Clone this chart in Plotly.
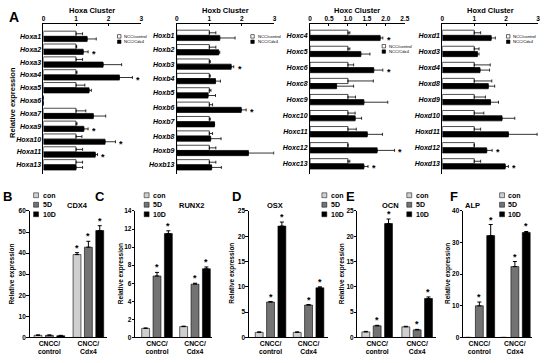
import plotly.graph_objects as go

W, H = 550, 363
def px(x): return x / W
def py(y): return 1 - y / H

FONT = "Arial, Liberation Sans, sans-serif"

# ---------------- Data: panel A (Hox clusters) ----------------
hoxa_genes = ["Hoxa1","Hoxa2","Hoxa3","Hoxa4","Hoxa5","Hoxa6","Hoxa7","Hoxa9","Hoxa10","Hoxa11","Hoxa13"]
hoxa_ctrl = [1,1,1,1,1,0,1,1,1,1,1]
hoxa_ctrl_err = [0.2,0.02,0.2,0.03,0.27,0,0.3,0.03,0.18,0.2,0.2]
hoxa_cdx4 = [1.34,1.22,1.83,2.33,1.40,0,1.53,1.24,1.89,1.59,1.0]
hoxa_cdx4_err = [0.28,0.15,0.57,0.40,0.07,0,0.38,0.13,0.32,0.07,0.2]
hoxa_sig = [0,1,0,1,0,0,0,1,1,1,0]

hoxb_genes = ["Hoxb1","Hoxb2","Hoxb3","Hoxb4","Hoxb5","Hoxb6","Hoxb7","Hoxb8","Hoxb9","Hoxb13"]
hoxb_ctrl = [1,1,1,1,1,1,1,1,1,1]
hoxb_ctrl_err = [0.2,0.2,0.03,0.03,0.05,0.1,0.03,0.1,0.2,0.2]
hoxb_cdx4 = [1.32,1.29,1.67,1.19,0.96,1.98,1.16,1.04,2.2,1.07]
hoxb_cdx4_err = [0.47,0.03,0.08,0.15,0.23,0.15,0.0,0.32,0.78,0.3]
hoxb_sig = [0,0,1,0,0,1,0,0,0,0]

hoxc_genes = ["Hoxc4","Hoxc5","Hoxc6","Hoxc8","Hoxc9","Hoxc10","Hoxc11","Hoxc12","Hoxc13"]
hoxc_ctrl = [1,1,1,1,1,1,1,1,1]
hoxc_ctrl_err = [0.05,0.05,0.15,0.67,0.2,0.19,0.22,0.0,0.05]
hoxc_cdx4 = [1.85,1.34,1.68,0.70,1.42,1.19,1.51,1.77,1.42]
hoxc_cdx4_err = [0.07,0.24,0.24,0.45,0.63,0.17,0.4,0.46,0.11]
hoxc_sig = [1,0,1,0,0,0,0,1,1]

hoxd_genes = ["Hoxd1","Hoxd3","Hoxd4","Hoxd8","Hoxd9","Hoxd10","Hoxd11","Hoxd12","Hoxd13"]
hoxd_ctrl = [1,1,1,1,1,1,1,1,1]
hoxd_ctrl_err = [0.2,0.15,0.5,0.55,0.35,0.3,0.2,0.0,0.2]
hoxd_cdx4 = [1.53,1.10,1.18,1.44,1.51,1.87,2.07,1.39,1.97]
hoxd_cdx4_err = [0.13,0.05,0.3,0.2,0.25,0.4,0.9,0.17,0.1]
hoxd_sig = [0,0,0,0,0,0,0,1,1]

cluster_titles = ["Hoxa Cluster","Hoxb Cluster","Hoxc Cluster","Hoxd Cluster"]
hox_series_names = ["NCC/control","NCC/Cdx4"]

# ---------------- Data: panels B-F (time course) ----------------
group_labels = ["CNCC/<br>control","CNCC/<br>Cdx4"]
time_names = ["con","5D","10D"]

cdx4_con = [1.0, 39.3];  cdx4_con_err = [0.2, 0.9]
cdx4_5d  = [1.0, 42.8];  cdx4_5d_err  = [0.2, 2.8]
cdx4_10d = [0.8, 50.7];  cdx4_10d_err = [0.2, 2.3]
cdx4_sig = [[0,1],[0,1],[0,1]]

runx2_con = [1.0, 1.2];  runx2_con_err = [0.05, 0.05]
runx2_5d  = [6.8, 5.9];  runx2_5d_err  = [0.4, 0.1]
runx2_10d = [11.5, 7.6]; runx2_10d_err = [0.3, 0.2]
runx2_sig = [[0,0],[1,1],[1,1]]

osx_con = [1.0, 1.0];   osx_con_err = [0.1, 0.1]
osx_5d  = [7.0, 6.4];   osx_5d_err  = [0.1, 0.1]
osx_10d = [22.0, 9.8];  osx_10d_err = [0.8, 0.2]
osx_sig = [[0,0],[1,1],[1,1]]

ocn_con = [1.1, 2.1];   ocn_con_err = [0.1, 0.1]
ocn_5d  = [2.3, 1.5];   ocn_5d_err  = [0.1, 0.1]
ocn_10d = [22.5, 7.7];  ocn_10d_err = [0.9, 0.3]
ocn_sig = [[0,0],[1,1],[1,1]]

alp_con = [0.0, 0.0];   alp_con_err = [0.0, 0.0]
alp_5d  = [10.0, 22.4]; alp_5d_err  = [1.2, 1.6]
alp_10d = [32.2, 33.2]; alp_10d_err = [3.5, 0.3]
alp_sig = [[0,0],[1,1],[1,1]]

marker_titles = ["CDX4","RUNX2","OSX","OCN","ALP"]
ytick_sets = [[0,10,20,30,40,50,60],[0,2,4,6,8,10,12,14],[0,5,10,15,20,25],[0,5,10,15,20,25],[0,10,20,30,40]]

# ---------------- Figure ----------------
fig = go.Figure()
layout = dict(width=W, height=H, margin=dict(l=0, r=0, t=0, b=0),
              paper_bgcolor="white", plot_bgcolor="white",
              showlegend=False, barmode="overlay",
              font=dict(family=FONT, color="black"))
annotations = []
shapes = []

def ann(x, y, text, size=7, bold=True, xanchor="center", yanchor="middle", **kw):
    d = dict(x=px(x), y=py(y), xref="paper", yref="paper", text=text, showarrow=False,
             xanchor=xanchor, yanchor=yanchor,
             font=dict(family=FONT, size=size, color="black", weight="bold" if bold else "normal"))
    d.update(kw)
    annotations.append(d)

# ---- Panel A layout (pixels) ----
top_y0, top_y1 = 20, 173
hox_panels = [
    dict(genes=hoxa_genes, ctrl=hoxa_ctrl, ce=hoxa_ctrl_err, cdx=hoxa_cdx4, de=hoxa_cdx4_err, sig=hoxa_sig,
         x0=42, x1=141, xmax=3, ticks=[0,1,2,3], ticktext=["0","1","2","3"], first=33, last=164, leg=(117, 33)),
    dict(genes=hoxb_genes, ctrl=hoxb_ctrl, ce=hoxb_ctrl_err, cdx=hoxb_cdx4, de=hoxb_cdx4_err, sig=hoxb_sig,
         x0=177, x1=276, xmax=3, ticks=[0,1,2,3], ticktext=["0","1","2","3"], first=32, last=164, leg=(252, 33)),
    dict(genes=hoxc_genes, ctrl=hoxc_ctrl, ce=hoxc_ctrl_err, cdx=hoxc_cdx4, de=hoxc_cdx4_err, sig=hoxc_sig,
         x0=312, x1=408, xmax=2.5, ticks=[0,0.5,1,1.5,2,2.5], ticktext=["0","0.5","1.0","1.5","2.0","2.5"],
         first=32, last=163, leg=(385, 43)),
    dict(genes=hoxd_genes, ctrl=hoxd_ctrl, ce=hoxd_ctrl_err, cdx=hoxd_cdx4, de=hoxd_cdx4_err, sig=hoxd_sig,
         x0=446, x1=543, xmax=3, ticks=[0,1,2,3], ticktext=["0","1","2","3"], first=32, last=163, leg=(511, 33)),
]

BAR_H = 5.3  # px
for k, p in enumerate(hox_panels):
    n = len(p["genes"])
    ax = "" if k == 0 else str(k + 1)
    xa, ya = "x" + ax, "y" + ax
    spacing = (p["last"] - p["first"]) / (n - 1)
    w = BAR_H / spacing
    ytop = -(p["first"] - top_y0) / spacing
    ybot = (n - 1) + (top_y1 - p["last"]) / spacing
    pos = list(range(n))
    for j, (vals, errs, col) in enumerate([(p["ctrl"], p["ce"], "white"), (p["cdx"], p["de"], "black")]):
        fig.add_trace(go.Bar(
            x=vals, y=pos, orientation="h", xaxis=xa, yaxis=ya,
            width=w, offset=(-w if j == 0 else 0),
            marker=dict(color=col, line=dict(color="black", width=0.7)),
            error_x=dict(type="data", array=errs, arrayminus=[0]*n, symmetric=False,
                         color="black", thickness=0.8, width=1.5),
            name=hox_series_names[j]))
    scale = (p["x1"] - p["x0"]) / p["xmax"]
    for i in range(n):
        if p["sig"][i]:
            annotations.append(dict(x=p["cdx"][i] + p["de"][i] + 6 / scale, y=i + w / 2,
                                    xref=xa, yref=ya, text="*", showarrow=False, yshift=-2,
                                    xanchor="center", yanchor="middle",
                                    font=dict(family=FONT, size=9, color="black", weight="bold")))
    layout["xaxis" + ax] = dict(domain=[px(p["x0"]), px(p["x1"])], range=[0, p["xmax"]], anchor=ya,
                                side="top", tickvals=p["ticks"], ticktext=p["ticktext"],
                                ticks="inside", ticklen=2, tickwidth=1, tickcolor="black",
                                ticklabelstandoff=-1,
                                showline=True, linecolor="black", linewidth=1, showgrid=False, zeroline=False,
                                tickfont=dict(size=6.5, weight="bold"))
    layout["yaxis" + ax] = dict(domain=[py(top_y1), py(top_y0)], range=[ybot, ytop], anchor=xa,
                                tickvals=pos, ticktext=p["genes"], ticks="", ticklen=0,
                                showline=True, linecolor="black", linewidth=1, showgrid=False, zeroline=False,
                                tickfont=dict(size=7, weight="bold", style="italic"))
    ann((p["x0"] + p["x1"]) / 2, 7, cluster_titles[k], size=7.5)
    # legend
    lx, ly = p["leg"]
    for j, col in enumerate(["white", "black"]):
        yy = ly + j * 5.5
        shapes.append(dict(type="rect", xref="paper", yref="paper",
                           x0=px(lx), x1=px(lx + 3.5), y0=py(yy + 1.75), y1=py(yy - 1.75),
                           fillcolor=col, line=dict(color="black", width=0.6)))
        ann(lx + 5, yy, hox_series_names[j], size=4.2, bold=False, xanchor="left")

ann(10, 100, "Relative expression", size=7.5, textangle=-90)
ann(12, 13, "A", size=14)

# ---- Panels B-F ----
bot_y0, bot_y1 = 211, 340
bottom = [
    dict(series=[(cdx4_con, cdx4_con_err), (cdx4_5d, cdx4_5d_err), (cdx4_10d, cdx4_10d_err)], sig=cdx4_sig,
         x0=28, g1=48, g2=87.5, x1=106, ymax=60, leg=32, title_x=76, lab="B", lab_xy=(6, 196), ylab_x=10),
    dict(series=[(runx2_con, runx2_con_err), (runx2_5d, runx2_5d_err), (runx2_10d, runx2_10d_err)], sig=runx2_sig,
         x0=135, g1=157, g2=195.5, x1=213, ymax=14, leg=144, title_x=192, lab="C", lab_xy=(99, 196), ylab_x=120),
    dict(series=[(osx_con, osx_con_err), (osx_5d, osx_5d_err), (osx_10d, osx_10d_err)], sig=osx_sig,
         x0=250, g1=272, g2=310.5, x1=330, ymax=25, leg=324, title_x=277, lab="D", lab_xy=(238, 196), ylab_x=233),
    dict(series=[(ocn_con, ocn_con_err), (ocn_5d, ocn_5d_err), (ocn_10d, ocn_10d_err)], sig=ocn_sig,
         x0=360, g1=380, g2=420.5, x1=440, ymax=25, leg=410, title_x=394, lab="E", lab_xy=(353, 196), ylab_x=344),
    dict(series=[(alp_con, alp_con_err), (alp_5d, alp_5d_err), (alp_10d, alp_10d_err)], sig=alp_sig,
         x0=467, g1=483.5, g2=519.5, x1=537, ymax=40, leg=504, title_x=477, lab="F", lab_xy=(458, 196), ylab_x=451),
]
time_colors = ["#cfcfcf", "#737373", "#000000"]
BAR_PITCH, BAR_W = 11.5, 8.0
for k, p in enumerate(bottom):
    ax = str(k + 5)
    xa, ya = "x" + ax, "y" + ax
    pitch = p["g2"] - p["g1"]
    bw = BAR_W / pitch
    bp = BAR_PITCH / pitch
    for j, (vals, errs) in enumerate(p["series"]):
        centre = (j - 1) * bp
        fig.add_trace(go.Bar(
            x=[0, 1], y=vals, xaxis=xa, yaxis=ya, width=bw, offset=centre - bw / 2,
            marker=dict(color=time_colors[j], line=dict(color="black", width=0.6)),
            error_y=dict(type="data", array=errs, arrayminus=[0, 0], symmetric=False,
                         color="black", thickness=1, width=2),
            name=time_names[j]))
        for g in range(2):
            if p["sig"][j][g]:
                annotations.append(dict(x=g + centre, y=vals[g] + errs[g], xref=xa, yref=ya,
                                        text="*", showarrow=False, xanchor="center", yanchor="bottom",
                                        yshift=-2,
                                        font=dict(family=FONT, size=9, color="black", weight="bold")))
    layout["xaxis" + ax] = dict(domain=[px(p["x0"]), px(p["x1"])],
                                range=[(p["x0"] - p["g1"]) / pitch, (p["x1"] - p["g1"]) / pitch],
                                anchor=ya, tickvals=[0, 1], ticktext=group_labels, ticks="", ticklen=0,
                                ticklabelstandoff=-1,
                                showline=True, linecolor="black", linewidth=1, showgrid=False, zeroline=False,
                                tickfont=dict(size=6.8, weight="bold"))
    layout["yaxis" + ax] = dict(domain=[py(bot_y1), py(bot_y0)], range=[0, p["ymax"]], anchor=xa,
                                tickvals=ytick_sets[k], ticks="outside", ticklen=2.5, tickwidth=1,
                                tickcolor="black", showline=True, linecolor="black", linewidth=1,
                                ticklabelstandoff=-1,
                                showgrid=False, zeroline=False, tickfont=dict(size=6.5, weight="bold"))
    ann(p["title_x"], 205.5, marker_titles[k], size=7.5)
    ann(p["lab_xy"][0], p["lab_xy"][1], p["lab"], size=13)
    ann(p["ylab_x"], 275, "Relative expression", size=6.5, textangle=-90)
    for j in range(3):
        yy = 195 + j * 9.7
        shapes.append(dict(type="rect", xref="paper", yref="paper",
                           x0=px(p["leg"]), x1=px(p["leg"] + 5), y0=py(yy + 2.5), y1=py(yy - 2.5),
                           fillcolor=time_colors[j], line=dict(color="black", width=0.5)))
        ann(p["leg"] + 7, yy, time_names[j], size=7, xanchor="left")

layout["annotations"] = annotations
layout["shapes"] = shapes
fig.update_layout(**layout)
fig.write_html("out.html", config={"displayModeBar": False},
               post_script="document.body.style.margin='0px';")
